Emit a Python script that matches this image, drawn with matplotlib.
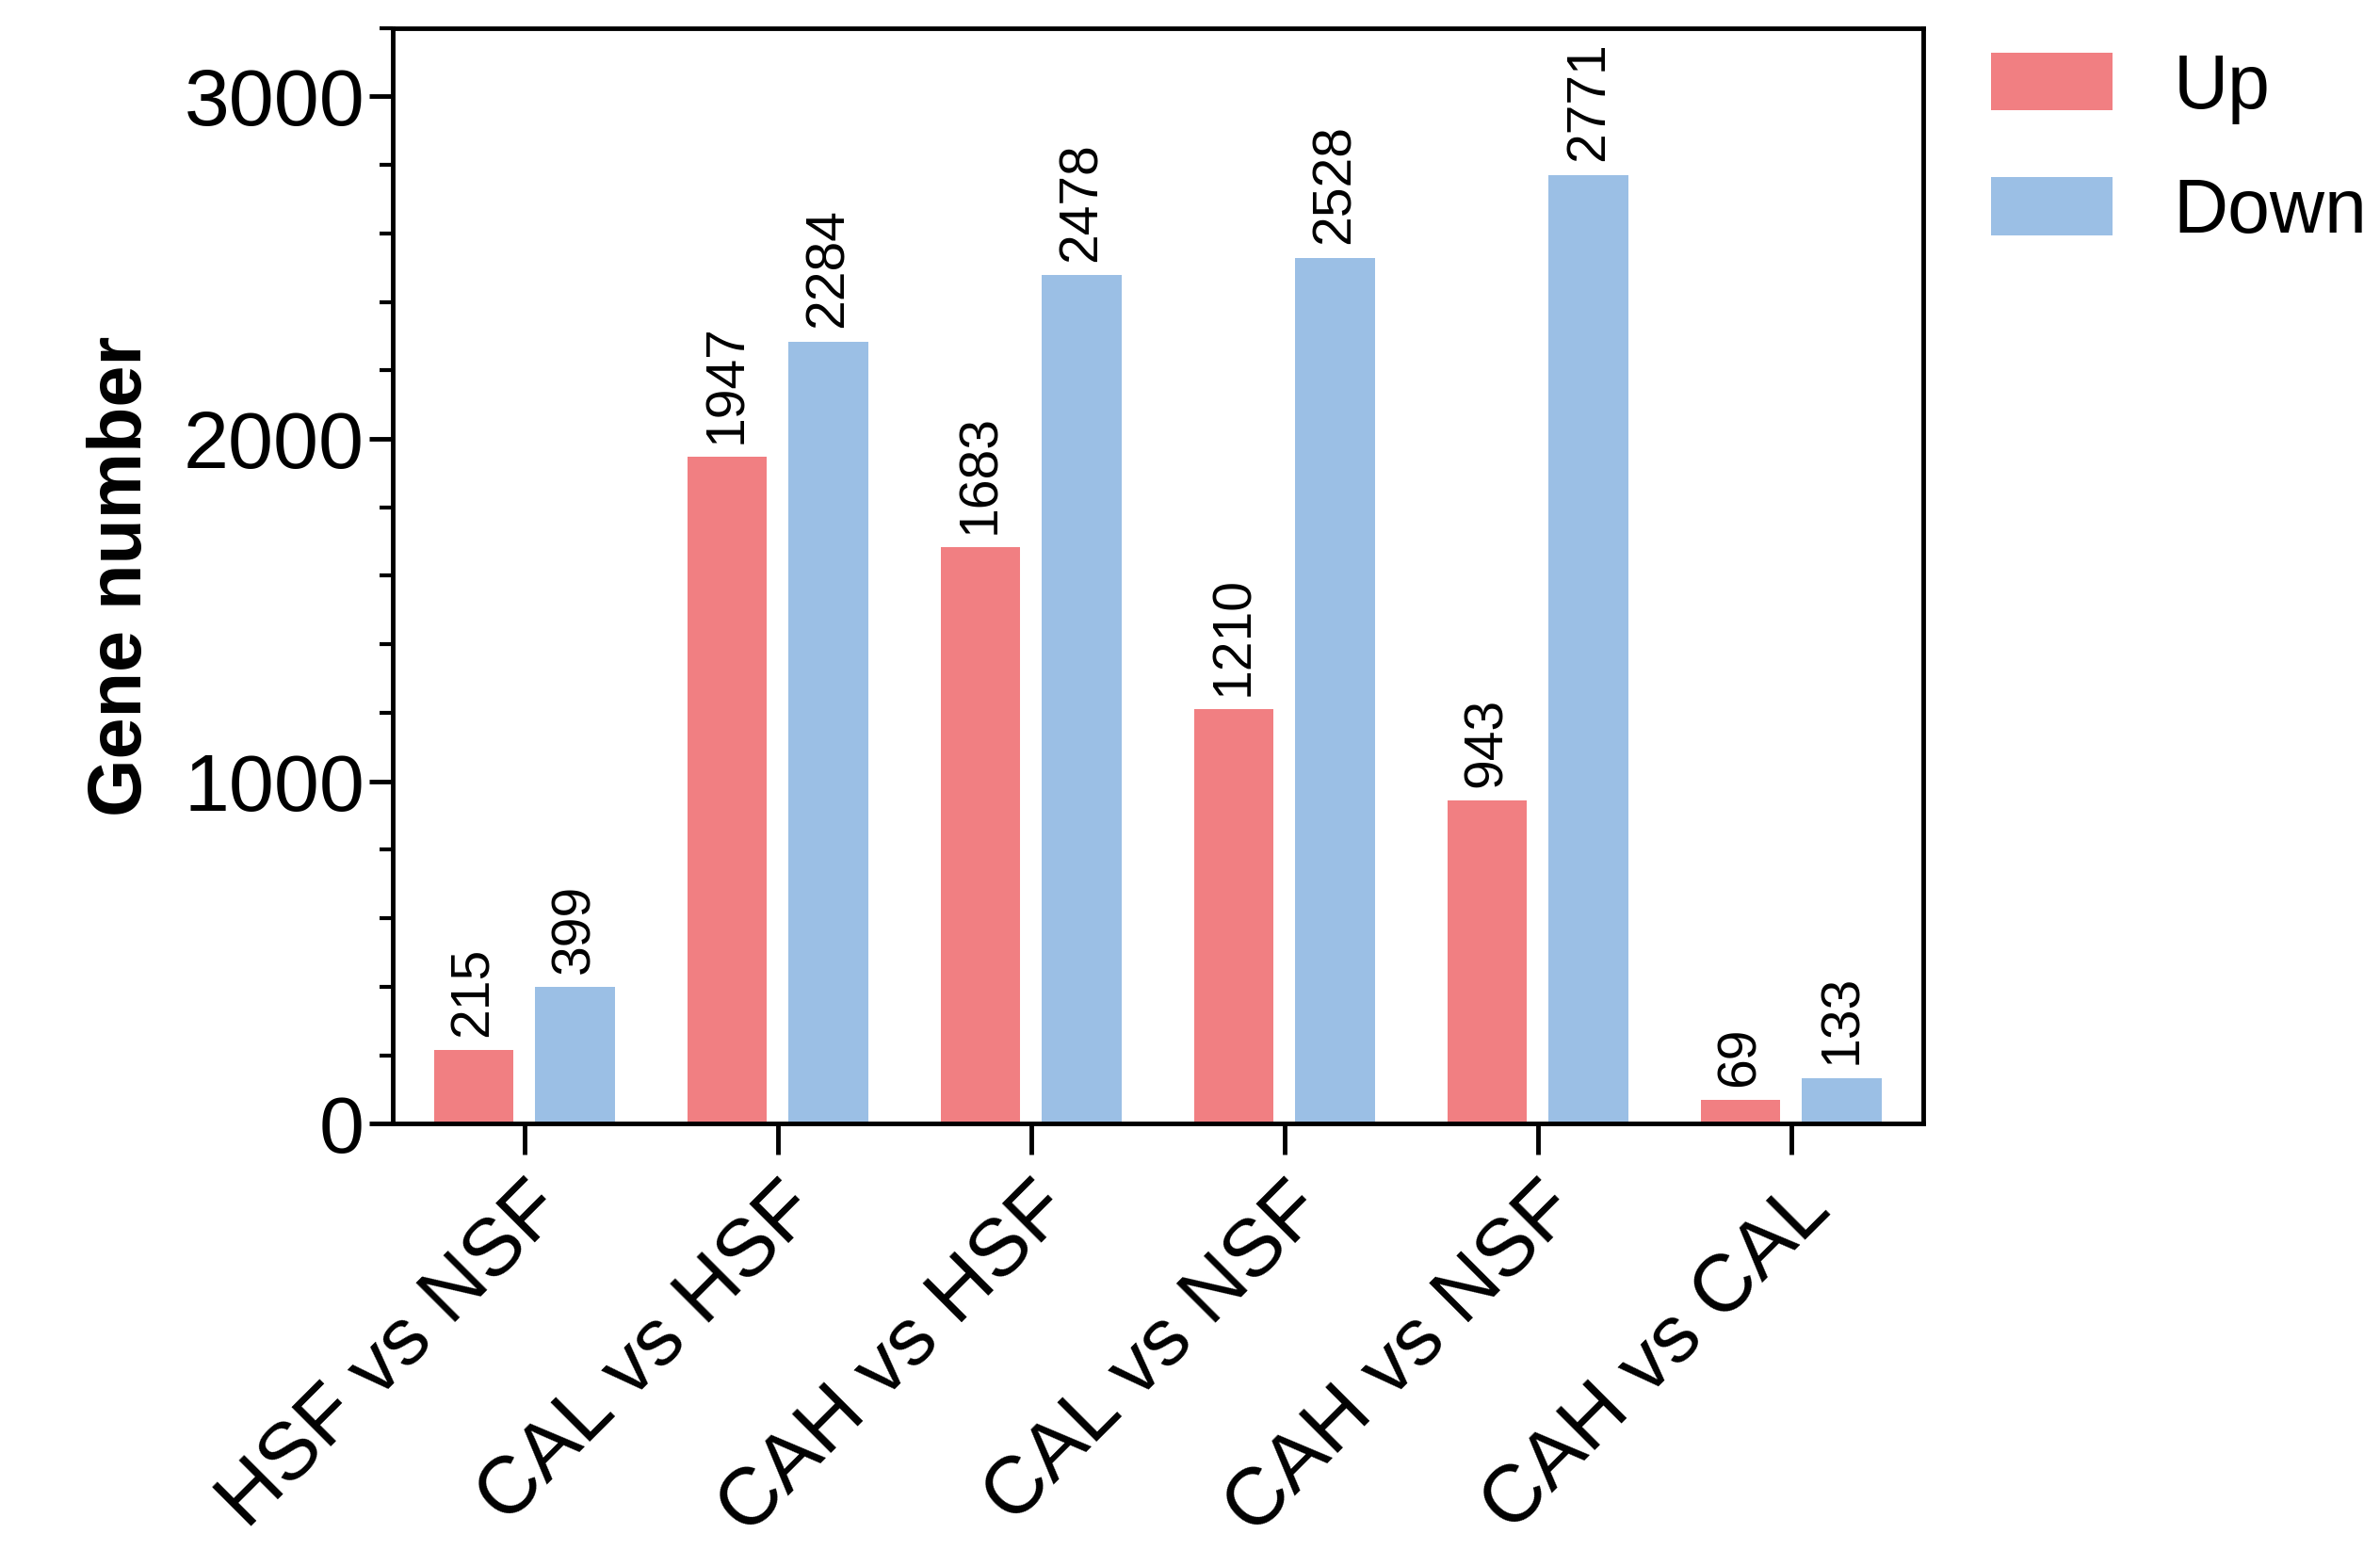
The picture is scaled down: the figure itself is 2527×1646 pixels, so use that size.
import matplotlib
matplotlib.use("Agg")
import matplotlib.pyplot as plt
import numpy as np
from matplotlib.ticker import MultipleLocator

categories = ["HSF vs NSF", "CAL vs HSF", "CAH vs HSF", "CAL vs NSF", "CAH vs NSF", "CAH vs CAL"]
up = [215, 1947, 1683, 1210, 943, 69]
down = [399, 2284, 2478, 2528, 2771, 133]

plt.rcParams['font.family'] = ['Liberation Sans', 'DejaVu Sans']
fig = plt.figure(figsize=(25.27, 16.46), dpi=100)
ax = fig.add_axes([0.165, 0.275, 0.643, 0.707])
x = np.arange(len(categories))
w = 0.315; off = 0.2
b1 = ax.bar(x - off, up, w, color='#F17F82', label='Up')
b2 = ax.bar(x + off, down, w, color='#9BBFE5', label='Down')
for bars, vals in ((b1, up), (b2, down)):
    for r, v in zip(bars, vals):
        ax.text(r.get_x() + r.get_width()/2, v + 40, str(v), rotation=90,
                ha='center', va='bottom', fontsize=41)
ax.set_xlim(-0.52, 5.52)
ax.set_ylim(0, 3200)
ax.yaxis.set_major_locator(MultipleLocator(1000))
ax.yaxis.set_minor_locator(MultipleLocator(200))
ax.set_xticks(x)
ax.set_xticklabels(categories, rotation=45, ha='right', rotation_mode='anchor', fontsize=62)
ax.tick_params(axis='y', labelsize=62, width=3.5, length=18)
ax.tick_params(axis='y', which='minor', width=3, length=10)
ax.tick_params(axis='x', width=3.5, length=24, pad=12)
for s in ax.spines.values():
    s.set_linewidth(3.5)
ax.set_ylabel('Gene number', fontsize=57, fontweight='bold', labelpad=20)
ax.legend(loc='upper left', bbox_to_anchor=(1.0, 1.04), frameon=False, fontsize=58,
          handlelength=1.6, handleheight=0.8, labelspacing=0.7, handletextpad=0.8)
fig.savefig('out.png', dpi=100)
